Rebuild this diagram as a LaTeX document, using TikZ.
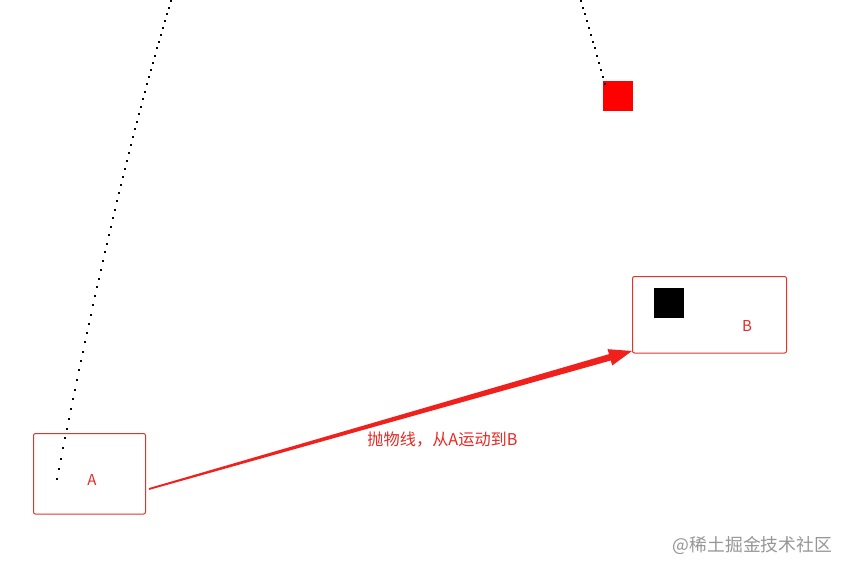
\documentclass[tikz,border=0pt]{standalone}
\usepackage{fontspec}
\newfontfamily\cjk{Noto Sans CJK SC}
\usetikzlibrary{calc}
\definecolor{boxred}{RGB}{226,52,42}
\definecolor{arrred}{RGB}{240,32,28}
\definecolor{txtred}{RGB}{232,40,36}
\definecolor{wmgray}{RGB}{150,150,150}
\tikzset{
  stagebox/.style={draw=boxred, line width=1pt, rounded corners=2pt, fill=white},
  lbl/.style={text=txtred, font=\cjk\fontsize{15}{17}\selectfont, inner sep=0pt},
  trajdot/.style={fill=black},
}
\begin{document}
\begin{tikzpicture}[x=1pt,y=-1pt]
\useasboundingbox[fill=white] (0,0) rectangle (851,572);
% boxes
\draw[stagebox] (33.5,433.5) rectangle (145.5,514);
\draw[stagebox] (632.5,276.5) rectangle (786.5,353);
\node[lbl] (A) at (92,480) {A};
\node[lbl] (B) at (747,326.5) {B};
% black square in B
\fill[black] (654,288) rectangle (684,318);
% red square
\fill[red] (603,81) rectangle (633,111);
% parabolic trajectory dots
\foreach \x in {56.7,58.7,...,172} {
  \fill[trajdot] ({\x-1},{(0.08943*(\x-375.7))^2-336.1}) rectangle ({\x+1},{(0.08943*(\x-375.7))^2-334.1});
}
\foreach \x in {580.7,582.7,...,605} {
  \fill[trajdot] ({\x-1},{(0.08943*(\x-375.7))^2-336.1}) rectangle ({\x+1},{(0.08943*(\x-375.7))^2-334.1});
}
% tapered arrow
\coordinate (as) at (149,489);
\coordinate (bt) at (632,351);
\coordinate (hb) at ($(bt)!23pt!(as)$);
\fill[arrred] ($(as)!0.9pt!90:(bt)$) -- ($(hb)!3.3pt!-90:(as)$) -- ($(hb)!8.5pt!-90:(as)$) -- (bt)
  -- ($(hb)!8.5pt!90:(as)$) -- ($(hb)!3.3pt!90:(as)$) -- ($(as)!0.9pt!-90:(bt)$) -- cycle;
\node[text=txtred, font=\cjk\fontsize{16.2}{18}\selectfont, inner sep=0pt] (lab) at (442.5,440) {抛物线，从A运动到B};
% watermark
\node[text=wmgray, font=\cjk\fontsize{17.8}{20}\selectfont, inner sep=0pt] (wm) at (752.5,545) {@稀土掘金技术社区};
\end{tikzpicture}
\end{document}
